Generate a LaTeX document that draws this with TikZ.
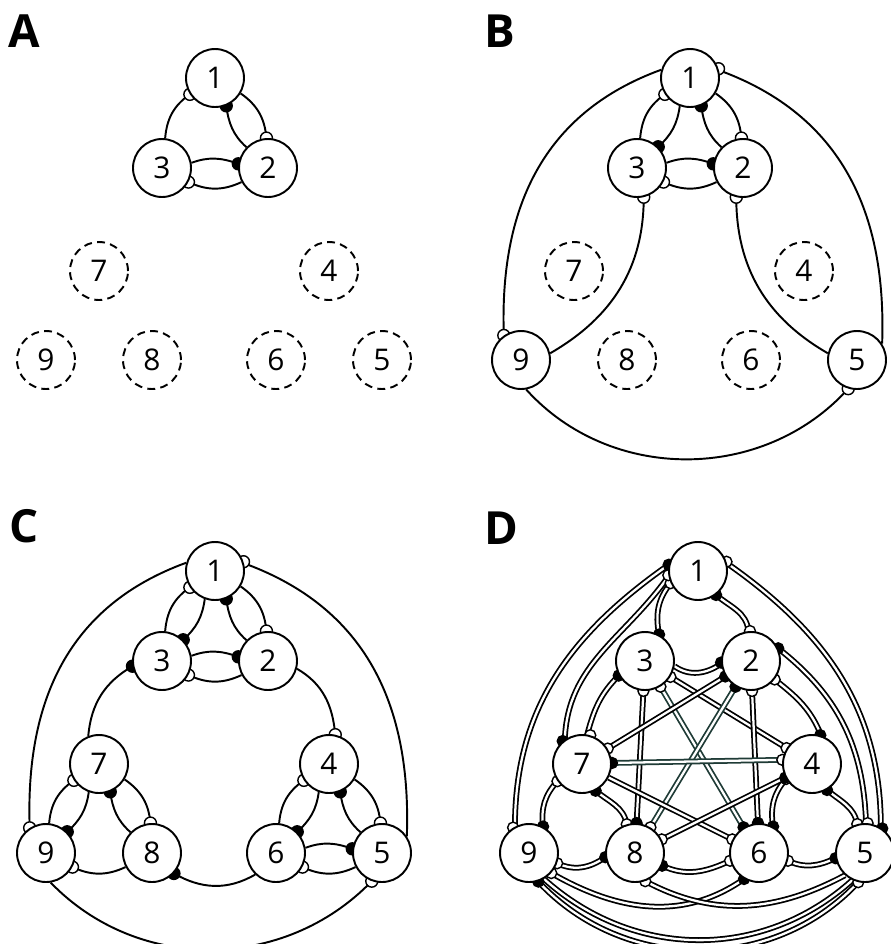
\documentclass[tikz,border=0pt]{standalone}
\usepackage{fontspec}
\setmainfont{Open Sans}
\pgfdeclarelayer{wires}
\pgfdeclarelayer{marks}
\pgfsetlayers{wires,marks,main}
\definecolor{synteal}{HTML}{1F3B36}
\begin{document}
\begin{tikzpicture}[x=0.02cm, y=0.02cm,
    cell/.style={circle, draw, fill=white, line width=1.1pt, minimum size=1.16cm, inner sep=0pt, font=\fontsize{17}{20}\selectfont},
    ghost/.style={cell, dash pattern=on 4.5pt off 3pt},
    wire/.style={line width=1.1pt},
    dwire/.style={line width=1pt, double=white, double distance=1.3pt},
    twire/.style={dwire, draw=synteal},
    openmark/.style={draw, fill=white, line width=0.8pt},
    fullmark/.style={draw, fill=black, line width=0.8pt},
    panel/.style={anchor=base west, inner sep=0pt, font=\fontsize{26}{30}\selectfont\bfseries}]
\useasboundingbox (0,0) rectangle (891,-944);

% Panel labels
\node[panel] (labA) at (8,-47) {A};
\node[panel] (labB) at (484,-47) {B};
\node[panel] (labC) at (9,-542) {C};
\node[panel] (labD) at (484,-544) {D};

% Panel A: cells
\begin{scope}
\foreach \n/\x/\y in {1/215/78, 3/162/168, 2/268/168}
  \node[cell] (a\n) at (\x,-\y) {\n};
\foreach \n/\x/\y in {7/99/271, 4/329/271, 9/46/360, 8/152/360, 6/276/360, 5/382/360}
  \node[ghost] (a\n) at (\x,-\y) {\n};
\end{scope}

% Panel B: cells
\begin{scope}[shift={(475,0)}]
\foreach \n/\x/\y in {1/215/78, 3/162/168, 2/268/168, 9/46/360, 5/382/360}
  \node[cell] (b\n) at (\x,-\y) {\n};
\foreach \n/\x/\y in {7/99/271, 4/329/271, 8/152/360, 6/276/360}
  \node[ghost] (b\n) at (\x,-\y) {\n};
\end{scope}

% Panel C: cells
\begin{scope}[shift={(0,-493)}]
\foreach \n/\x/\y in {1/215/78, 3/162/168, 2/268/168, 7/99/271, 4/329/271, 9/46/360, 8/152/360, 6/276/360, 5/382/360}
  \node[cell] (c\n) at (\x,-\y) {\n};
\end{scope}

% Panel D: cells
\begin{scope}[shift={(483,-493)}]
\foreach \n/\x/\y in {1/215/78, 3/162/168, 2/268/168, 7/99/271, 4/329/271, 9/46/360, 8/152/360, 6/276/360, 5/382/360}
  \node[cell] (d\n) at (\x,-\y) {\n};
\end{scope}

\begin{pgfonlayer}{wires}
% Drawing edges A: 1 3 2
\draw[wire] (a1.213) to[out=215,in=85] (a3.84);
\draw[wire] (a1.292) to[out=278,in=138] (a2.136);
\draw[wire] (a1.329) to[out=325,in=95] (a2.93);
\draw[wire] (a3.10) to[out=20,in=160] (a2.172);
\draw[wire] (a3.332) to[out=-25,in=205] (a2.208);

% Drawing edges B: 1 3 2
\draw[wire] (b1.213) to[out=215,in=85] (b3.84);
\draw[wire] (b1.250) to[out=262,in=42] (b3.45);
\draw[wire] (b1.292) to[out=278,in=138] (b2.136);
\draw[wire] (b1.329) to[out=325,in=95] (b2.93);
\draw[wire] (b3.10) to[out=20,in=160] (b2.172);
\draw[wire] (b3.332) to[out=-25,in=205] (b2.208);
% Drawing edges B: 3 9, 2 5 and outer loop
\draw[wire] (b3.283) to[out=270,in=30] (b9.13);
\draw[wire] (b2.257) to[out=270,in=150] (b5.167);
\draw[wire] (b1.164) to[out=200,in=92,looseness=1.05] (b9.125);
\draw[wire] (b1.15) to[out=340,in=88,looseness=1.05] (b5.33);
\draw[wire] (b9.280) to[out=-48,in=228] (b5.253);

% Drawing edges C: 1 3 2
\draw[wire] (c1.213) to[out=215,in=85] (c3.84);
\draw[wire] (c1.250) to[out=262,in=42] (c3.45);
\draw[wire] (c1.292) to[out=278,in=138] (c2.136);
\draw[wire] (c1.329) to[out=325,in=95] (c2.93);
\draw[wire] (c3.10) to[out=20,in=160] (c2.172);
\draw[wire] (c3.332) to[out=-25,in=205] (c2.208);
% Drawing edges C: 7 9 8
\draw[wire] (c7.213) to[out=215,in=85] (c9.84);
\draw[wire] (c7.250) to[out=262,in=42] (c9.45);
\draw[wire] (c7.292) to[out=278,in=138] (c8.136);
\draw[wire] (c7.329) to[out=325,in=95] (c8.93);
\draw[wire] (c9.332) to[out=-25,in=205] (c8.208);
% Drawing edges C: 4 6 5
\draw[wire] (c4.213) to[out=215,in=85] (c6.84);
\draw[wire] (c4.250) to[out=262,in=42] (c6.45);
\draw[wire] (c4.292) to[out=278,in=138] (c5.136);
\draw[wire] (c4.329) to[out=325,in=95] (c5.93);
\draw[wire] (c6.10) to[out=20,in=160] (c5.172);
\draw[wire] (c6.332) to[out=-25,in=205] (c5.208);
% Drawing edges C: links and outer loop
\draw[wire] (c3.190) to[out=210,in=85] (c7.111);
\draw[wire] (c2.345) to[out=330,in=95] (c4.78);
\draw[wire] (c8.317) to[out=-30,in=210] (c6.226);
\draw[wire] (c1.164) to[out=200,in=92,looseness=1.05] (c9.123);
\draw[wire] (c1.15) to[out=340,in=88,looseness=1.05] (c5.34);
\draw[wire] (c9.279) to[out=-46,in=226] (c5.250);

% Drawing edges D: triangles
\draw[dwire] (d1.204) to[out=231,in=101] (d3.62);
\draw[dwire] (d1.307) to[out=320,in=95] (d2.95);
\draw[dwire] (d3.350) to[out=-35,in=215] (d2.185);
\draw[dwire] (d7.215) to[out=227,in=97] (d9.62);
\draw[dwire] (d7.297) to[out=320,in=100] (d8.106);
\draw[dwire] (d9.340) to[out=-25,in=215] (d8.188);
\draw[dwire] (d4.210) to[out=229,in=99] (d6.62);
\draw[dwire] (d4.300) to[out=320,in=100] (d5.105);
\draw[dwire] (d6.345) to[out=-25,in=205] (d5.190);
\draw[dwire] (d8.335) to[out=-25,in=205] (d6.195);
% Drawing edges D: side arcs
\draw[dwire] (d1.168) to[out=215,in=90] (d9.118);
\draw[dwire] (d1.190) to[out=235,in=88] (d7.125);
\draw[dwire] (d3.209) to[out=225,in=75] (d7.80);
\draw[dwire] (d1.15) to[out=325,in=90] (d5.58);
\draw[dwire] (d2.25) to[out=322,in=92] (d5.88);
\draw[dwire] (d2.322) to[out=322,in=112] (d4.72);
% Drawing edges D: straight links
\draw[dwire] (d3.267) -- (d8.87);
\draw[twire] (d3.301) -- (d6.121);
\draw[dwire] (d3.328) -- (d4.148);
\draw[dwire] (d2.211) -- (d7.31);
\draw[twire] (d2.239) -- (d8.59);
\draw[dwire] (d2.272) -- (d6.92);
\draw[twire] (d7.2) -- (d4.172);
\draw[dwire] (d7.333) -- (d6.153);
\draw[dwire] (d8.27) -- (d4.207);
% Drawing edges D: bottom arcs
\draw[dwire] (d9.318) to[out=-30,in=215] (d6.240);
\draw[dwire] (d8.290) to[out=-28,in=208] (d5.228);
\draw[dwire] (d9.288) to[out=-47,in=227] (d5.257);
\draw[dwire] (d9.300) to[out=-42,in=222] (d5.245);
\end{pgfonlayer}

\begin{pgfonlayer}{marks}
% Marking synapses A
\draw[openmark] (a1.213) circle (0.12cm);
\draw[fullmark] (a1.292) circle (0.12cm);
\draw[openmark] (a2.93) circle (0.12cm);
\draw[fullmark] (a2.172) circle (0.12cm);
\draw[openmark] (a3.332) circle (0.12cm);

% Marking synapses B
\draw[openmark] (b1.213) circle (0.12cm);
\draw[fullmark] (b3.45) circle (0.12cm);
\draw[fullmark] (b1.292) circle (0.12cm);
\draw[openmark] (b2.93) circle (0.12cm);
\draw[fullmark] (b2.172) circle (0.12cm);
\draw[openmark] (b3.332) circle (0.12cm);
\draw[openmark] (b3.283) circle (0.12cm);
\draw[openmark] (b2.257) circle (0.12cm);
\draw[openmark] (b9.125) circle (0.12cm);
\draw[openmark] (b1.18) circle (0.12cm);
\draw[openmark] (b5.253) circle (0.12cm);

% Marking synapses C
\draw[openmark] (c1.213) circle (0.12cm);
\draw[fullmark] (c3.45) circle (0.12cm);
\draw[fullmark] (c1.292) circle (0.12cm);
\draw[openmark] (c2.93) circle (0.12cm);
\draw[fullmark] (c2.172) circle (0.12cm);
\draw[openmark] (c3.332) circle (0.12cm);
\draw[openmark] (c7.213) circle (0.12cm);
\draw[fullmark] (c9.45) circle (0.12cm);
\draw[fullmark] (c7.292) circle (0.12cm);
\draw[openmark] (c8.93) circle (0.12cm);
\draw[openmark] (c9.332) circle (0.12cm);
\draw[openmark] (c4.213) circle (0.12cm);
\draw[fullmark] (c6.45) circle (0.12cm);
\draw[fullmark] (c4.292) circle (0.12cm);
\draw[openmark] (c5.93) circle (0.12cm);
\draw[fullmark] (c5.172) circle (0.12cm);
\draw[openmark] (c6.332) circle (0.12cm);
\draw[fullmark] (c3.190) circle (0.12cm);
\draw[openmark] (c4.78) circle (0.12cm);
\draw[fullmark] (c8.317) circle (0.12cm);
\draw[openmark] (c9.123) circle (0.12cm);
\draw[openmark] (c1.18) circle (0.12cm);
\draw[openmark] (c5.250) circle (0.12cm);

% Marking synapses D
\draw[openmark] (d1.204) circle (0.11cm);
\draw[fullmark] (d3.62) circle (0.11cm);
\draw[fullmark] (d1.307) circle (0.11cm);
\draw[openmark] (d2.92) circle (0.11cm);
\draw[fullmark] (d2.183) circle (0.11cm);
\draw[openmark] (d7.215) circle (0.11cm);
\draw[fullmark] (d9.62) circle (0.11cm);
\draw[fullmark] (d7.297) circle (0.11cm);
\draw[openmark] (d8.106) circle (0.11cm);
\draw[openmark] (d9.340) circle (0.11cm);
\draw[fullmark] (d8.188) circle (0.11cm);
\draw[openmark] (d4.210) circle (0.11cm);
\draw[fullmark] (d6.62) circle (0.11cm);
\draw[fullmark] (d4.300) circle (0.11cm);
\draw[openmark] (d5.105) circle (0.11cm);
\draw[openmark] (d6.345) circle (0.11cm);
\draw[fullmark] (d5.190) circle (0.11cm);
\draw[fullmark] (d8.335) circle (0.11cm);
\draw[openmark] (d6.195) circle (0.11cm);
\draw[fullmark] (d1.168) circle (0.11cm);
\draw[openmark] (d9.122) circle (0.11cm);
\draw[openmark] (d1.188) circle (0.11cm);
\draw[fullmark] (d7.130) circle (0.11cm);
\draw[fullmark] (d3.209) circle (0.11cm);
\draw[openmark] (d7.74) circle (0.11cm);
\draw[openmark] (d1.18) circle (0.11cm);
\draw[fullmark] (d5.55) circle (0.11cm);
\draw[fullmark] (d2.25) circle (0.11cm);
\draw[openmark] (d5.85) circle (0.11cm);
\draw[openmark] (d2.322) circle (0.11cm);
\draw[fullmark] (d4.74) circle (0.11cm);
\draw[openmark] (d3.267) circle (0.11cm);
\draw[fullmark] (d8.87) circle (0.11cm);
\draw[openmark] (d3.301) circle (0.11cm);
\draw[fullmark] (d6.121) circle (0.11cm);
\draw[openmark] (d3.328) circle (0.11cm);
\draw[openmark] (d4.148) circle (0.11cm);
\draw[fullmark] (d2.211) circle (0.11cm);
\draw[openmark] (d7.31) circle (0.11cm);
\draw[fullmark] (d2.239) circle (0.11cm);
\draw[openmark] (d8.59) circle (0.11cm);
\draw[openmark] (d2.272) circle (0.11cm);
\draw[fullmark] (d6.92) circle (0.11cm);
\draw[fullmark] (d7.2) circle (0.11cm);
\draw[openmark] (d4.172) circle (0.11cm);
\draw[openmark] (d6.153) circle (0.11cm);
\draw[openmark] (d8.27) circle (0.11cm);
\draw[fullmark] (d4.207) circle (0.11cm);
\draw[openmark] (d9.318) circle (0.11cm);
\draw[fullmark] (d6.240) circle (0.11cm);
\draw[openmark] (d8.290) circle (0.11cm);
\draw[fullmark] (d9.288) circle (0.11cm);
\draw[openmark] (d5.257) circle (0.11cm);
\end{pgfonlayer}
\end{tikzpicture}
\end{document}
